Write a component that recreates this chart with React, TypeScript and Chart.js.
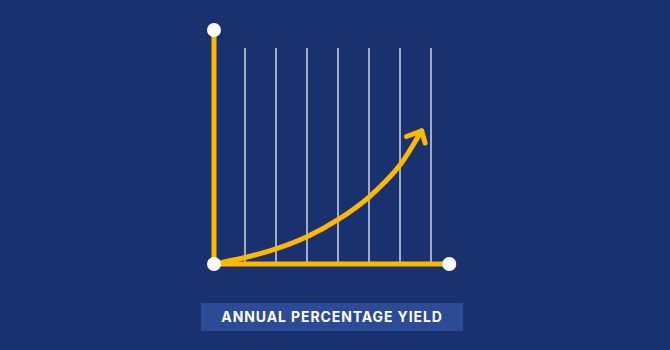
import React, { useEffect, useRef } from "react";
import { Chart, registerables } from "chart.js";

Chart.register(...registerables);

// Growth curve (x in period steps, y in percent of the guide height)
const curveX = [0, 1, 2, 3, 4, 5, 6, 6.7];
const curveY = [0, 3.0, 7.0, 12.6, 20.5, 31.0, 45.8, 61.6];

// Arrowhead: left arm end, tip, right arm end
const arrowX = [6.21, 6.7, 6.81];
const arrowY = [59.0, 61.6, 56.0];

// Axis extents and vertical guide lines
const axisXEnd = 7.59;
const axisYEnd = 108.3;
const guideSteps = [1, 2, 3, 4, 5, 6, 7];
const guideTop = 100;

const title = "ANNUAL PERCENTAGE YIELD";

const BG = "#1A316F";
const BOX = "#2C4B96";
const GOLD = "#FFB800";
const GUIDE = "rgba(222,226,236,0.92)";

const pts = (xs: number[], ys: number[]) => xs.map((x, i) => ({ x, y: ys[i] }));

export default function App() {
  const ref = useRef<HTMLCanvasElement | null>(null);

  useEffect(() => {
    if (!ref.current) return;

    const guides = guideSteps.map((s) => ({
      label: "guide " + s,
      data: pts([s, s], [0, guideTop]),
      borderColor: GUIDE,
      borderWidth: 1.5,
      pointRadius: 0,
      clip: false,
      order: 5,
    }));

    const chart = new Chart(ref.current, {
      type: "line",
      data: {
        datasets: [
          ...guides,
          {
            label: "curve",
            data: pts(curveX, curveY),
            borderColor: GOLD,
            borderWidth: 5,
            borderCapStyle: "round",
            cubicInterpolationMode: "monotone",
            pointRadius: 0,
            clip: false,
            order: 3,
          },
          {
            label: "arrow",
            data: pts(arrowX, arrowY),
            borderColor: GOLD,
            borderWidth: 5,
            borderCapStyle: "round",
            borderJoinStyle: "round",
            pointRadius: 0,
            clip: false,
            order: 3,
          },
          {
            label: "yAxis",
            data: pts([0, 0], [0, axisYEnd]),
            borderColor: GOLD,
            borderWidth: 5,
            pointRadius: 0,
            clip: false,
            order: 2,
          },
          {
            label: "xAxis",
            data: pts([0, axisXEnd], [0, 0]),
            borderColor: GOLD,
            borderWidth: 5,
            pointRadius: 0,
            clip: false,
            order: 2,
          },
          {
            label: "ends",
            data: pts([0, 0, axisXEnd], [axisYEnd, 0, 0]),
            showLine: false,
            pointRadius: 7,
            pointBackgroundColor: "#FFFFFF",
            pointBorderWidth: 0,
            clip: false,
            order: 1,
          },
        ],
      },
      options: {
        animation: false,
        responsive: false,
        events: [],
        layout: { padding: { left: 214, right: 670 - 214 - axisXEnd * 31, top: 30, bottom: 86 } },
        plugins: { legend: { display: false }, tooltip: { enabled: false }, title: { display: false } },
        scales: {
          x: { type: "linear", display: false, min: 0, max: axisXEnd },
          y: { type: "linear", display: false, min: 0, max: axisYEnd },
        },
      },
    });
    return () => chart.destroy();
  }, []);

  return (
    <div style={{ position: "fixed", left: 0, top: 0, width: 670, height: 350, background: BG }}>
      <canvas ref={ref} width={670} height={350} style={{ display: "block" }} />
      <div
        style={{
          position: "absolute",
          left: 201,
          top: 303,
          width: 262,
          height: 28,
          background: BOX,
          color: "#FFFFFF",
          fontFamily: "Inter, 'Open Sans', sans-serif",
          fontWeight: 700,
          fontSize: 14,
          letterSpacing: 0.9,
          lineHeight: "28px",
          textAlign: "center",
        }}
      >
        {title}
      </div>
    </div>
  );
}
